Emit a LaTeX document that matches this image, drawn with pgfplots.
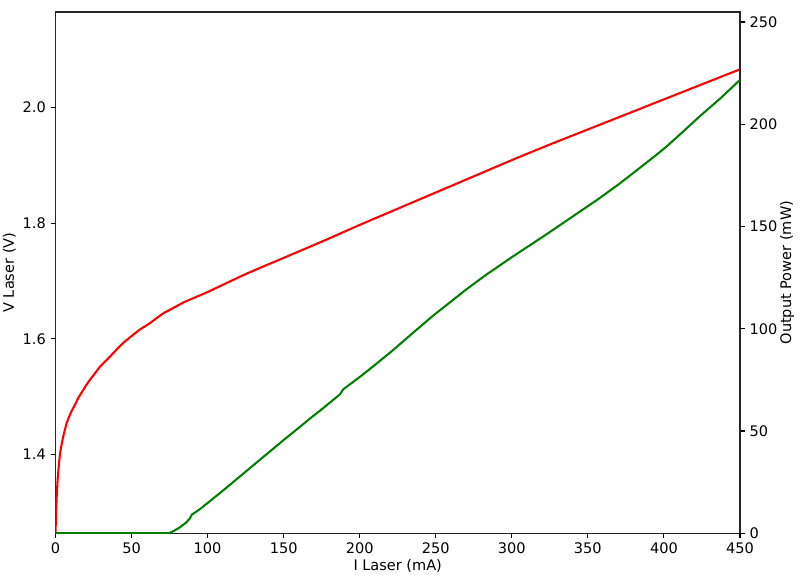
\documentclass[border=0pt]{standalone}
\usepackage{pgfplots}
\pgfplotsset{compat=1.18}
\usepackage{fontspec}
\setmainfont{DejaVu Sans}
\definecolor{mplgreen}{HTML}{008000}
\begin{document}
\begin{tikzpicture}
\pgfplotsset{
  every axis/.append style={
    scale only axis, width=494.7pt, height=376.7pt,
    xmin=0, xmax=450,
    font=\fontsize{10.5}{12.6}\selectfont,
    /pgf/number format/assume math mode=true,
    tick align=outside, major tick length=3.5pt,
    every tick/.style={black, line width=0.8pt},
    axis line style={line width=0.8pt, black!85},
  }
}
\begin{axis}[
  name=ax1,
  ymin=1.264, ymax=2.165,
  xtick pos=bottom, ytick pos=left,
  xtick={0,50,...,450},
  ytick={1.4,1.6,1.8,2.0},
  yticklabel style={/pgf/number format/.cd, fixed, fixed zerofill, precision=1},
  xlabel={I Laser (mA)}, ylabel={V Laser (V)},
  xlabel style={yshift=3pt},
  ylabel style={yshift=-2pt},
]
\addplot[red, line width=1.5pt, smooth, tension=0.3] coordinates {
(0,1.264) (0.3,1.29) (0.8,1.327) (1.5,1.36) (3,1.402) (5,1.43) (7.3,1.454)
(10,1.472) (12.8,1.486) (15,1.498) (18.3,1.512) (22,1.527) (25,1.537)
(29.3,1.552) (35,1.567) (40,1.581) (45,1.594) (51,1.607) (56,1.617)
(62,1.627) (67,1.637) (72,1.646) (75,1.650) (85,1.664) (100,1.681)
(125,1.712) (150,1.740) (175,1.768) (200,1.797) (225,1.825) (250,1.853)
(275,1.881) (300,1.909) (325,1.936) (350,1.962) (375,1.988) (400,2.014)
(425,2.040) (450,2.066)
};
\coordinate (bl) at (rel axis cs:0,0);
\coordinate (tr) at (rel axis cs:1,1);
\end{axis}
\begin{axis}[
  ymin=0, ymax=254.9,
  axis y line*=right, axis x line=none,
  ytick={0,50,...,250},
  ylabel={Output Power (mW)},
  ylabel style={at={(rel axis cs:1,0.5)}, anchor=center, yshift=-34pt},
]
\addplot[mplgreen, line width=1.5pt] coordinates {
(0,0) (74.6,0) (78,1.2) (82,3.0) (86,5.3) (88.4,7.3) (89.5,9.0) (95,11.8)
(100,14.8) (110,20.8) (120,27.0) (130,33.2) (140,39.4) (150,45.6)
(160,51.6) (167,55.9) (175,60.6) (187,67.9) (189.2,70.4) (200,76.4)
(210,82.3) (222,89.6) (235,98.0) (248.4,106.5) (260,113.3) (270,119.2)
(283.5,126.6) (300,135.0) (323,146.3) (340,154.9) (356,163.0) (370,170.5)
(383,178.0) (395,185.0) (402,189.3) (412,196.0) (424,204.2) (437,212.6)
(450,221.7)
};
\end{axis}
\pgfresetboundingbox
\useasboundingbox ([xshift=-40.1pt,yshift=-30.9pt]bl) rectangle ([xshift=43.4pt,yshift=8.7pt]tr);
\end{tikzpicture}
\end{document}
